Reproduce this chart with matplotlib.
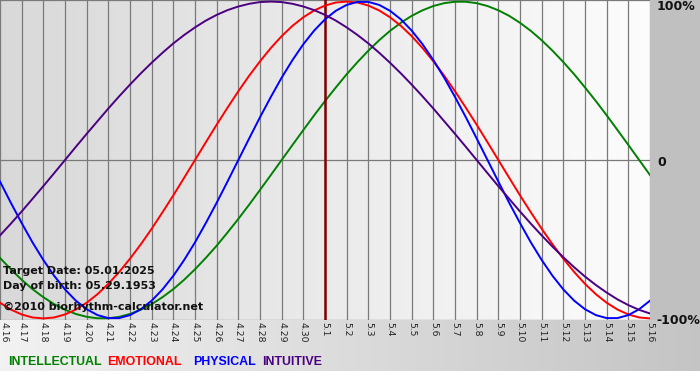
import numpy as np
import matplotlib
matplotlib.use("Agg")
import matplotlib.pyplot as plt

# dias mostrados (4/16 .. 5/16)
fechas = ["4.16", "4.17", "4.18", "4.19", "4.20", "4.21", "4.22", "4.23", "4.24",
          "4.25", "4.26", "4.27", "4.28", "4.29", "4.30", "5.1", "5.2", "5.3",
          "5.4", "5.5", "5.6", "5.7", "5.8", "5.9", "5.10", "5.11", "5.12",
          "5.13", "5.14", "5.15", "5.16"]

# valores leidos cada medio dia, de 4.16 a 5.16
fisico = [-0.136, -0.270, -0.398, -0.520, -0.631, -0.731, -0.817, -0.888, -0.942, -0.979,
          -0.998, -0.998, -0.979, -0.942, -0.888, -0.817, -0.731, -0.631, -0.520, -0.398,
          -0.270, -0.136, 0.000, 0.136, 0.270, 0.398, 0.520, 0.631, 0.731, 0.817,
          0.888, 0.942, 0.979, 0.998, 0.998, 0.979, 0.942, 0.888, 0.817, 0.731,
          0.631, 0.520, 0.398, 0.270, 0.136, 0.000, -0.136, -0.270, -0.398, -0.520,
          -0.631, -0.731, -0.817, -0.888, -0.942, -0.979, -0.998, -0.998, -0.979, -0.942,
          -0.888]
emocional = [-0.901, -0.944, -0.975, -0.994, -1.000, -0.994, -0.975, -0.944, -0.901, -0.847,
             -0.782, -0.707, -0.623, -0.532, -0.434, -0.330, -0.223, -0.112, 0.000, 0.112,
             0.223, 0.330, 0.434, 0.532, 0.623, 0.707, 0.782, 0.847, 0.901, 0.944,
             0.975, 0.994, 1.000, 0.994, 0.975, 0.944, 0.901, 0.847, 0.782, 0.707,
             0.623, 0.532, 0.434, 0.330, 0.223, 0.112, 0.000, -0.112, -0.223, -0.330,
             -0.434, -0.532, -0.623, -0.707, -0.782, -0.847, -0.901, -0.944, -0.975, -0.994,
             -1.000]
intelectual = [-0.618, -0.690, -0.756, -0.815, -0.866, -0.910, -0.945, -0.972, -0.990, -0.999,
               -0.999, -0.990, -0.972, -0.945, -0.910, -0.866, -0.815, -0.756, -0.690, -0.618,
               -0.541, -0.458, -0.372, -0.282, -0.189, -0.095, 0.000, 0.095, 0.189, 0.282,
               0.372, 0.458, 0.541, 0.618, 0.690, 0.756, 0.815, 0.866, 0.910, 0.945,
               0.972, 0.990, 0.999, 0.999, 0.990, 0.972, 0.945, 0.910, 0.866, 0.815,
               0.756, 0.690, 0.618, 0.541, 0.458, 0.372, 0.282, 0.189, 0.095, 0.000,
               -0.095]
intuitivo = [-0.476, -0.402, -0.325, -0.245, -0.165, -0.083, 0.000, 0.083, 0.165, 0.245,
             0.325, 0.402, 0.476, 0.547, 0.614, 0.677, 0.736, 0.789, 0.837, 0.880,
             0.916, 0.946, 0.969, 0.986, 0.997, 1.000, 0.997, 0.986, 0.969, 0.946,
             0.916, 0.880, 0.837, 0.789, 0.736, 0.677, 0.614, 0.547, 0.476, 0.402,
             0.325, 0.245, 0.165, 0.083, 0.000, -0.083, -0.165, -0.245, -0.325, -0.402,
             -0.476, -0.547, -0.614, -0.677, -0.736, -0.789, -0.837, -0.880, -0.916, -0.946,
             -0.969]

dia_objetivo = 15  # 5.1
leyenda = ["INTELLECTUAL", "EMOTIONAL", "PHYSICAL", "INTUITIVE"]
colores = ["#008000", "#ff0000", "#0000ff", "#4b0082"]

W, H = 700, 380
fig = plt.figure(figsize=(7, 3.8), dpi=100)

# fondo de toda la figura
fondo = np.ones((H, W, 3))
fondo[:320, :, :] = 0.753
grad = np.linspace(0.95, 0.77, W)
fondo[320:371, :, :] = grad[None, :, None]
bg = fig.add_axes([0, 0, 1, 1])
bg.imshow(fondo, aspect="auto", extent=(0, W, H, 0), interpolation="bilinear")
bg.axis("off")

ax = fig.add_axes([0, 60 / H, 650 / W, 320 / H])
n = len(fechas)
dias = np.arange(n)
medios = np.arange(len(fisico)) / 2
g = np.linspace(0.85, 0.99, 200)
ax.imshow(np.dstack([g, g, g]), aspect="auto",
          extent=(0, n - 1, -1.01, 1.01), zorder=0)

for d in dias:
    ax.axvline(d, color="#7a7a7a", lw=0.9, zorder=1)
for y in (-1.01, 0, 1.01):
    ax.axhline(y, color="#7a7a7a", lw=0.9, zorder=1)

ax.axvline(dia_objetivo, color="#800000", lw=1.8, zorder=3)

series = [intelectual, emocional, fisico, intuitivo]
orden = [2, 3, 4, 5]
for vals, c, z in zip(series, colores, orden):
    ax.plot(medios, vals, color=c, lw=1.4, zorder=z, solid_joinstyle="round")

ax.set_xlim(0, n - 1)
ax.set_ylim(-1.01, 1.01)
ax.set_xticks([])
ax.set_yticks([])
for s in ax.spines.values():
    s.set_visible(False)

def px(x, y):
    return x / W, 1 - y / H

for d, lab in zip(dias, fechas):
    x = max(d * 650 / (n - 1), 4)
    fig.text(*px(x, 322), lab, rotation=270, ha="center", va="top",
             fontsize=6.7, color="#222222")

fig.text(*px(657, 7), "100%", ha="left", va="center", fontsize=9,
         fontweight="bold", color="#111111")
fig.text(*px(657, 162), "0", ha="left", va="center", fontsize=9,
         fontweight="bold", color="#111111")
fig.text(*px(656, 321), "-100%", ha="left", va="center", fontsize=9,
         fontweight="bold", color="#111111")

info = ["Target Date: 05.01.2025", "Day of birth: 05.29.1953",
        "©2010 biorhythm-calculator.net"]
for t, y in zip(info, (271, 286, 307)):
    fig.text(*px(3, y), t, ha="left", va="center", fontsize=8.0,
             fontweight="bold", color="#111111", zorder=10)

xs = [8, 107, 193, 262]
for t, c, x in zip(leyenda, colores, xs):
    fig.text(*px(x, 362), t, ha="left", va="center", fontsize=8.9,
             fontweight="bold", color=c, family="Liberation Sans")

fig.savefig("out.png", dpi=100)
